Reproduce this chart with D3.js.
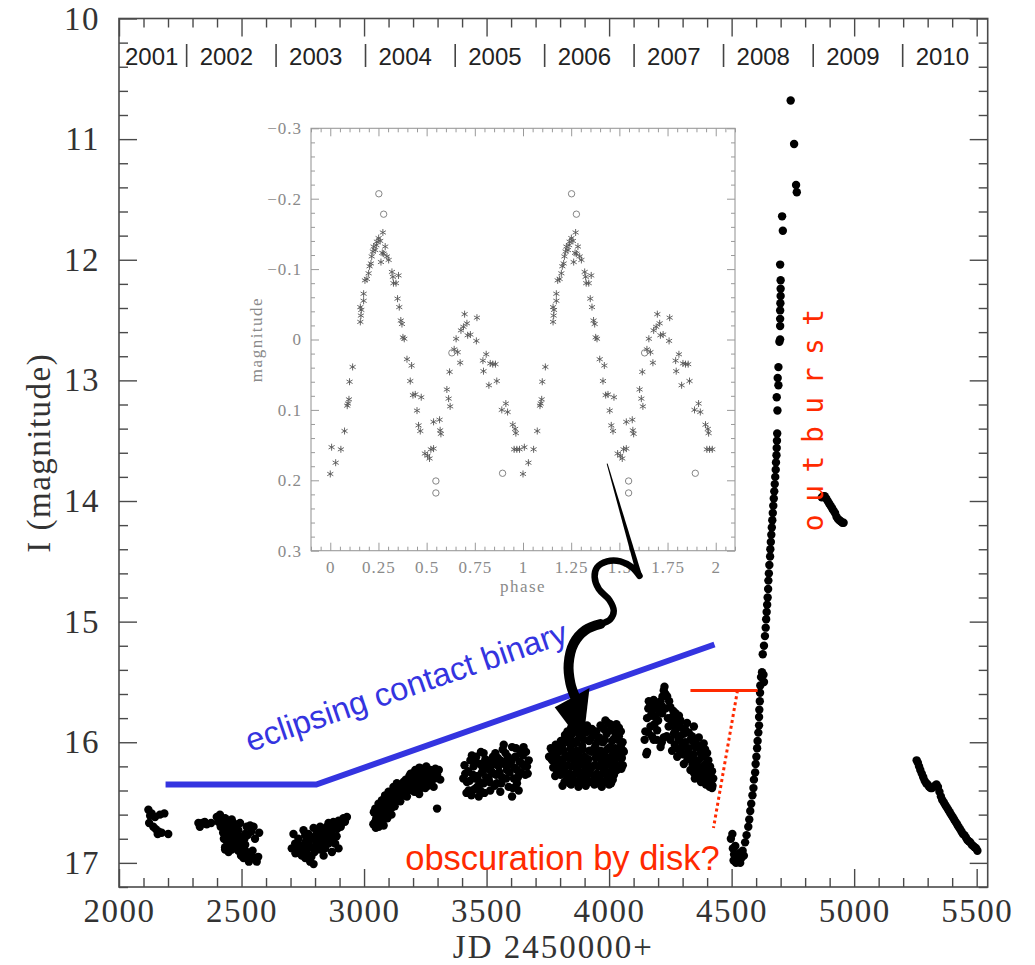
<!DOCTYPE html>
<html>
<head>
<meta charset="utf-8">
<script src="https://cdn.jsdelivr.net/npm/d3@7"></script>
<style>
  html, body { margin: 0; padding: 0; background: #fff; }
  svg { display: block; }
</style>
</head>
<body>
<svg id="chart" width="1035" height="965"></svg>
<script>
// ---------------------------------------------------------------
// I-band light curve, JD 2450000+ vs magnitude, one array per season
// ---------------------------------------------------------------
const season2001 = [
  [2120,16.56],[2133,16.59],[2127,16.61],[2147,16.62],[2167,16.60],[2185,16.59],
  [2123,16.67],[2140,16.70],[2150,16.72],[2158,16.76],[2174,16.75],[2201,16.76],[2161,16.74]
];
const season2002 = [
  [2324,16.67],[2340,16.67],[2358,16.68],[2376,16.67],[2399,16.62],[2412,16.60],[2419,16.65],
  [2433,16.63],[2426,16.69],[2440,16.67],[2447,16.72],[2460,16.64],[2467,16.67],[2474,16.70],
  [2457,16.74],[2433,16.76],[2447,16.78],[2463,16.78],[2481,16.76],[2487,16.73],[2494,16.80],
  [2501,16.83],[2508,16.78],[2515,16.76],[2521,16.70],[2535,16.69],[2549,16.70],[2572,16.75],
  [2433,16.87],[2447,16.91],[2460,16.89],[2474,16.85],[2487,16.90],[2501,16.92],[2508,16.96],
  [2521,16.91],[2535,16.94],[2549,16.96],[2562,16.99],[2487,16.83],[2467,16.83],[2494,16.67],
  [2515,16.85],[2433,16.89],[2330,16.70],[2350,16.66],[2405,16.66],[2415,16.70],[2425,16.75],
  [2438,16.72],[2452,16.68],[2470,16.74],[2478,16.80],[2490,16.86],[2505,16.88],[2512,16.80],
  [2525,16.77],[2540,16.74],[2555,16.80],[2568,16.95],[2440,16.82],[2455,16.86],[2428,16.80],
  [2498,16.94],[2530,16.99],[2545,16.90]
];
const season2003 = [
  [2712,16.76],[2705,16.88],[2719,16.84],[2732,16.89],[2746,16.94],[2760,16.96],[2780,16.99],
  [2794,17.01],[2766,16.88],[2773,16.84],[2787,16.87],[2807,16.84],[2821,16.89],[2835,16.94],
  [2841,16.88],[2855,16.84],[2869,16.91],[2882,16.84],[2896,16.88],[2753,16.73],[2773,16.76],
  [2794,16.71],[2807,16.74],[2821,16.70],[2828,16.77],[2841,16.73],[2855,16.67],[2869,16.73],
  [2875,16.66],[2896,16.65],[2909,16.67],[2916,16.63],[2930,16.62],[2800,16.78],[2814,16.81],
  [2848,16.78],[2732,16.80],[2766,16.80],[2862,16.81],[2835,16.83],[2720,16.92],[2740,16.86],
  [2755,16.91],[2770,16.93],[2785,16.95],[2798,16.91],[2812,16.86],[2825,16.82],[2840,16.80],
  [2852,16.76],[2865,16.77],[2880,16.70],[2890,16.72],[2905,16.70],[2922,16.66],[2760,16.83],
  [2790,16.80],[2815,16.76],[2830,16.72],[2848,16.70],[2760,16.77],[2888,16.78]
];
const season2004 = [
  [3046,16.55],[3059,16.51],[3073,16.48],[3066,16.58],[3086,16.44],[3100,16.41],[3107,16.48],
  [3120,16.37],[3134,16.34],[3141,16.44],[3155,16.40],[3161,16.33],[3175,16.36],[3189,16.31],
  [3195,16.26],[3202,16.37],[3209,16.23],[3223,16.29],[3229,16.25],[3236,16.34],[3243,16.22],
  [3257,16.26],[3263,16.31],[3270,16.23],[3277,16.29],[3284,16.37],[3291,16.22],[3298,16.27],
  [3311,16.31],[3298,16.55],[3114,16.54],[3093,16.59],[3148,16.49],[3175,16.45],[3216,16.41],
  [3250,16.38],[3040,16.58],[3050,16.63],[3058,16.67],[3068,16.62],[3075,16.66],[3085,16.60],
  [3095,16.63],[3105,16.56],[3112,16.60],[3125,16.53],[3060,16.70],[3045,16.66],[3080,16.69],
  [3052,16.60],[3063,16.55],[3070,16.52],[3078,16.58],[3082,16.50],[3090,16.47],[3096,16.54],
  [3103,16.44],[3110,16.50],[3118,16.42],[3122,16.47],[3130,16.39],[3137,16.45],[3145,16.37],
  [3150,16.42],[3158,16.35],[3165,16.39],[3170,16.31],[3180,16.40],[3185,16.28],[3192,16.35],
  [3198,16.30],[3205,16.41],[3212,16.28],[3218,16.34],[3226,16.21],[3232,16.38],[3240,16.28],
  [3247,16.33],[3254,16.20],[3260,16.36],[3268,16.27],[3274,16.33],[3280,16.25],[3288,16.30],
  [3295,16.24],[3305,16.23],[3038,16.68],[3048,16.71],[3056,16.64],[3072,16.61],[3088,16.56],
  [3102,16.52],[3128,16.48],[3160,16.44],[3190,16.26],[3225,16.43]
];
const season2005 = [
  [3413,16.26],[3420,16.33],[3427,16.40],[3434,16.15],[3440,16.11],[3447,16.20],[3454,16.30],
  [3461,16.37],[3468,16.45],[3474,16.18],[3481,16.25],[3488,16.34],[3495,16.14],[3502,16.22],
  [3508,16.30],[3515,16.40],[3522,16.16],[3529,16.26],[3536,16.09],[3542,16.34],[3549,16.20],
  [3556,16.15],[3563,16.29],[3570,16.02],[3577,16.09],[3583,16.23],[3590,16.37],[3597,16.18],
  [3604,16.04],[3611,16.30],[3617,16.12],[3624,16.23],[3631,16.40],[3638,16.08],[3645,16.18],
  [3651,16.04],[3658,16.27],[3665,16.20],[3604,16.45],[3556,16.41],[3515,16.20],[3474,16.40],
  [3454,16.15],[3583,16.15],[3624,16.34],[3536,16.18],[3488,16.09],
  [3405,16.30],[3410,16.19],[3418,16.42],[3425,16.24],[3431,16.32],[3438,16.44],[3444,16.27],
  [3450,16.39],[3458,16.12],[3464,16.28],[3471,16.33],[3477,16.08],[3484,16.21],[3491,16.42],
  [3498,16.29],[3505,16.17],[3512,16.33],[3519,16.24],[3526,16.12],[3533,16.36],[3539,16.27],
  [3546,16.13],[3553,16.25],[3560,16.34],[3566,16.06],[3573,16.18],[3580,16.30],[3587,16.12],
  [3594,16.25],[3600,16.16],[3607,16.38],[3614,16.21],[3620,16.05],[3628,16.29],[3634,16.16],
  [3641,16.25],[3648,16.11],[3655,16.20],[3661,16.08],[3668,16.26],[3672,16.15]
];
const season2006 = [
  [3845,15.88],[3872,15.87],[3900,15.88],[3930,15.89],[3965,15.86],[3995,15.84],[4010,15.87],[4030,15.85],
  [3820,15.94],[3850,15.93],[3880,15.95],[3905,15.92],[3935,15.94],[3960,15.96],[3990,15.93],
  [4020,15.97],[4040,15.95],[3782,16.02],[3808,16.03],[3835,16.00],[3860,16.01],[3890,16.03],[3918,15.99],
  [3945,16.02],[3975,16.00],[4003,16.04],[4025,16.05],[4048,16.03],[3776,16.10],[3795,16.08],[3822,16.11],
  [3848,16.09],[3875,16.10],[3900,16.12],[3928,16.08],[3952,16.11],[3980,16.09],[4008,16.12],[4035,16.10],
  [4052,16.13],[3780,16.18],[3805,16.16],[3830,16.19],[3858,16.17],[3885,16.18],[3912,16.16],[3940,16.19],
  [3968,16.17],[3995,16.18],[4022,16.16],[4045,16.19],[3788,16.25],[3815,16.23],[3840,16.26],[3868,16.24],
  [3895,16.25],[3922,16.23],[3950,16.26],[3978,16.24],[4005,16.25],[4032,16.23],[4050,16.22],
  [3825,16.32],[3852,16.30],[3880,16.33],[3908,16.31],[3935,16.32],[3962,16.30],[3990,16.33],[4015,16.31],
  [3810,16.36],[3845,16.35],[3875,16.37],[3905,16.36],[3940,16.35],[3970,16.37],[4000,16.35],
  [3762,16.05],[3768,16.15],[3755,16.12],[4060,16.08],
  [3830,15.91],[3862,15.90],[3888,15.91],[3918,15.90],[3948,15.91],[3978,15.89],[4005,15.90],[4025,15.92],
  [4048,15.91],[3803,15.99],[3815,15.98],[3842,15.97],[3868,15.99],[3898,15.98],[3925,15.97],[3955,15.99],
  [3982,15.98],[4012,15.99],[4035,15.98],[4055,16.00],[3768,16.07],[3790,16.06],[3815,16.07],[3842,16.05],
  [3868,16.07],[3893,16.06],[3920,16.07],[3940,16.05],[3965,16.07],[3992,16.06],[4018,16.08],[4042,16.06],
  [4058,16.07],[3765,16.14],[3788,16.13],[3812,16.14],[3838,16.13],[3864,16.14],[3890,16.13],[3915,16.14],
  [3945,16.13],[3972,16.14],[3998,16.13],[4025,16.14],[4048,16.13],[3772,16.21],[3795,16.20],[3820,16.21],
  [3845,16.20],[3872,16.21],[3900,16.20],[3928,16.21],[3955,16.20],[3982,16.21],[4010,16.20],[4035,16.21],
  [4056,16.19],[3780,16.28],[3802,16.27],[3828,16.28],[3855,16.27],[3882,16.28],[3910,16.27],[3938,16.28],
  [3965,16.27],[3992,16.28],[4020,16.27],[3818,16.33],[3840,16.34],[3865,16.33],
  [3895,16.34],[3922,16.33],[3952,16.34],[3982,16.33],[4008,16.34],
  [3985,15.82],[4005,15.85],[4040,15.88],[3910,15.86],[3860,15.86]
];
const season2007 = [
  [4162,15.66],[4155,15.80],[4148,15.91],[4155,16.08],[4169,15.68],[4182,15.65],[4196,15.68],[4210,15.66],
  [4223,15.57],[4226,15.54],[4237,15.62],[4250,15.71],[4257,15.79],[4243,15.87],[4223,15.96],[4196,15.90],
  [4182,15.98],[4210,16.04],[4169,15.87],[4189,15.79],[4216,15.76],[4271,15.76],[4278,15.87],[4291,15.82],
  [4305,15.93],[4318,15.84],[4332,15.98],[4346,15.87],[4352,16.04],[4366,15.96],[4373,16.09],[4386,16.01],
  [4393,16.18],[4400,16.09],[4407,16.23],[4380,16.26],[4359,16.20],[4339,16.15],[4318,16.09],[4298,16.04],
  [4284,15.98],[4264,15.93],[4257,16.07],[4278,16.12],[4305,16.18],[4332,16.23],[4359,16.29],[4386,16.31],
  [4400,16.29],[4410,16.37],[4395,16.35],[4420,16.38],[4375,16.33],[4350,16.30],[4145,15.98],[4152,16.10],
  [4160,15.72],[4175,15.74],[4190,15.72],[4205,15.75],[4218,15.62],[4230,15.60],[4245,15.66],[4262,15.74],
  [4275,15.82],[4285,15.78],[4295,15.88],[4312,15.90],[4325,15.92],[4338,15.95],[4345,16.00],[4360,16.02],
  [4370,16.05],[4380,16.12],[4392,16.06],[4405,16.15],[4412,16.20],[4395,16.25],[4385,16.20],[4365,16.15],
  [4345,16.10],[4325,16.05],[4310,16.00],[4290,15.95],[4270,15.90],[4255,15.85],[4240,15.80],[4230,15.72],
  [4215,15.70],[4200,15.82],[4185,15.85],[4170,15.78],[4160,15.92],[4175,15.95],[4195,15.98],[4215,16.00],
  [4235,15.95],[4250,15.98],[4268,16.02],[4285,16.06],[4300,16.10],[4320,16.14],[4340,16.18],[4355,16.22],
  [4375,16.26],[4400,16.32],[4418,16.30],[4422,16.36],[4408,16.27],[4415,16.33],[4390,16.29],[4365,16.24],
  [4345,16.25],[4420,16.24],[4402,16.19],[4425,16.30],[4330,16.11],[4355,16.15],[4300,16.02],[4280,15.95]
];
// 2008: faint start, steep rise and the outburst peak
const season2008 = [
  [4497,16.80],[4503,16.76],[4505,16.88],[4510,16.93],[4515,16.86],[4520,16.95],[4525,16.98],[4530,16.92],
  [4535,17.00],[4540,16.96],[4545,16.90],[4550,16.94],[4508,16.98],[4518,17.00],[4528,16.99],
  [4555,16.83],[4561,16.77],[4568,16.70],[4572,16.64],[4576,16.57],[4580,16.51],[4585,16.44],[4589,16.38],
  [4591,16.31],[4596,16.25],[4598,16.18],[4601,16.12],[4604,16.05],[4606,15.99],[4609,15.92],[4612,15.86],
  [4612,15.79],[4613,15.73],[4615,15.66],[4616,15.59],[4617,15.53],[4620,15.46],[4624,15.42],[4630,15.44],
  [4632,15.50],[4627,15.27],[4632,15.20],[4636,15.12],[4639,15.05],[4641,14.98],[4643,14.92],[4645,14.86],
  [4647,14.80],[4649,14.73],[4650,14.66],[4652,14.60],[4654,14.53],[4657,14.46],[4658,14.40],[4660,14.34],
  [4662,14.28],[4664,14.22],[4666,14.16],[4668,14.10],[4670,14.04],[4672,13.98],[4674,13.92],[4676,13.86],
  [4678,13.80],[4680,13.74],[4681,13.68],[4683,13.62],[4684,13.56],[4685,13.50],[4686,13.44],
  [4687,13.25],[4684,13.14],[4691,13.04],[4688,12.98],[4691,12.89],[4695,12.68],[4698,12.66],[4698,12.55],
  [4698,12.49],[4698,12.42],[4699,12.36],[4700,12.30],[4700,12.24],[4700,12.17],[4698,12.04],[4706,11.64],
  [4709,11.76],[4741,10.68],[4755,11.04],[4763,11.38],[4766,11.44]
];
const season2009 = [
  [4868,13.97],[4874,13.96],[4880,13.96],[4886,13.98],[4892,14.00],[4898,14.02],[4904,14.04],[4910,14.06],
  [4916,14.08],[4922,14.10],[4928,14.13],[4934,14.15],[4940,14.16],[4946,14.17],[4952,14.18],[4957,14.18]
];
const season2010 = [
  [5255,16.15],[5260,16.17],[5265,16.20],[5270,16.23],[5276,16.26],[5282,16.29],[5288,16.32],[5294,16.34],
  [5300,16.35],[5306,16.37],[5312,16.38],[5318,16.38],[5324,16.37],[5330,16.36],[5336,16.35],[5342,16.37],
  [5348,16.41],[5354,16.45],[5360,16.48],[5366,16.50],[5372,16.52],[5378,16.54],[5384,16.56],[5390,16.58],
  [5396,16.60],[5402,16.62],[5408,16.64],[5414,16.66],[5420,16.68],[5426,16.70],[5432,16.72],[5438,16.74],
  [5444,16.76],[5450,16.77],[5456,16.79],[5462,16.81],[5468,16.82],[5474,16.83],[5480,16.85],[5486,16.86],
  [5492,16.87],[5498,16.88],[5503,16.90]
];

// calendar years along the top (JD 2450000+ of 1 January)
const yearLabels = ['2001','2002','2003','2004','2005','2006','2007','2008','2009','2010'];
const yearStartJD = [1911, 2276, 2641, 3006, 3372, 3737, 4102, 4467, 4833, 5198];

// main axis ticks
const jdTicks = [2000, 2500, 3000, 3500, 4000, 4500, 5000, 5500];
const magTicks = [10, 11, 12, 13, 14, 15, 16, 17];

// ---------------------------------------------------------------
// Phased light curve (inset): [phase, delta magnitude]
// ---------------------------------------------------------------
const phaseStars = [
  [0.000,0.191],[0.007,0.153],[0.028,0.175],[0.055,0.156],[0.074,0.130],[0.088,0.094],[0.092,0.091],
  [0.097,0.085],[0.100,0.060],[0.116,0.039],[0.156,-0.025],[0.159,-0.034],[0.161,-0.042],[0.156,-0.046],
  [0.173,-0.055],[0.173,-0.065],[0.180,-0.084],[0.190,-0.086],[0.199,-0.094],[0.204,-0.104],[0.211,-0.108],
  [0.215,-0.118],[0.221,-0.125],[0.225,-0.132],[0.233,-0.127],[0.239,-0.134],[0.242,-0.139],[0.251,-0.144],
  [0.259,-0.140],[0.263,-0.110],[0.273,-0.152],[0.270,-0.123],[0.277,-0.122],[0.285,-0.132],[0.294,-0.118],
  [0.303,-0.113],[0.320,-0.096],[0.325,-0.089],[0.328,-0.080],[0.341,-0.080],[0.354,-0.091],[0.349,-0.058],
  [0.358,-0.046],[0.366,-0.027],[0.372,-0.022],[0.377,-0.003],[0.384,-0.001],[0.398,0.028],[0.422,0.037],
  [0.415,0.059],[0.429,0.079],[0.441,0.078],[0.472,0.082],[0.450,0.101],[0.458,0.122],[0.467,0.130],
  [0.491,0.162],[0.505,0.165],[0.515,0.169],[0.522,0.156],[0.536,0.155],[0.536,0.117],[0.567,0.114],
  [0.570,0.129],[0.574,0.134],[0.605,0.071],[0.614,0.084],[0.622,0.095],[0.619,0.046],[0.653,-0.001],
  [0.643,0.014],[0.661,0.018],[0.674,0.033],[0.678,-0.013],[0.691,-0.018],[0.697,-0.036],[0.709,-0.023],
  [0.713,-0.006],[0.727,-0.007],[0.758,0.002],[0.761,-0.031],[0.792,0.030],[0.795,0.045],[0.809,0.021],
  [0.823,0.065],[0.830,0.034],[0.843,0.035],[0.857,0.035],[0.864,0.059],[0.890,0.100],[0.911,0.091],
  [0.920,0.103],[0.947,0.121],[0.963,0.133],[0.959,0.127],[0.954,0.156],[0.968,0.156],[0.982,0.156]
];
const phaseCircles = [
  [0.252,-0.207],[0.277,-0.178],[0.548,0.201],[0.548,0.218],[0.631,0.019],[0.894,0.190]
];
const phaseTicks = [0, 0.25, 0.5, 0.75, 1, 1.25, 1.5, 1.75, 2];
const phaseTickLabels = ['0','0.25','0.5','0.75','1','1.25','1.5','1.75','2'];
const dmagTicks = [-0.3, -0.2, -0.1, 0, 0.1, 0.2, 0.3];
const dmagTickLabels = ['\u22120.3','\u22120.2','\u22120.1','0','0.1','0.2','0.3'];

// ---------------------------------------------------------------
// Annotations, in JD / magnitude
// ---------------------------------------------------------------
const binaryTrend = [[2190,16.35],[2805,16.35],[4430,15.19]];
const obscurationBar = [[4332,15.57],[4606,15.57]];
const obscurationLeader = [[4524,15.57],[4426,16.71]];
const arrowTail = [[3992,13.69],[4124,14.62]];
const arrowBodyUpper = [[4124,14.62],[4094,14.55],[4046,14.50],[3992,14.50],[3951,14.55],[3941,14.63],
  [3958,14.73],[4001,14.82],[4019,14.91],[4005,14.98],[3965,15.02]];
const arrowBodyLower = [[3965,15.02],[3903,15.07],[3856,15.18],[3835,15.35],[3842,15.51],[3860,15.62]];
const arrowHead = [[3778,15.71],[3920,15.55],[3893,16.02]];

// ---------------------------------------------------------------
const svg = d3.select('#chart');
const serif = "'Liberation Serif', 'Times New Roman', serif";
const sans = "'Liberation Sans', Arial, Helvetica, sans-serif";
const axisColor = '#4a4a4a';
const blue = '#3434e0';
const red = '#ff2a00';

const x = d3.scaleLinear().domain([2000, 5545]).range([119, 987.7]);
const y = d3.scaleLinear().domain([10, 17.2]).range([18.5, 887]);
const [x0, x1] = x.range();
const [y0, y1] = y.range();

function tidy(g) {
  g.select('.domain').remove();
  g.selectAll('.tick line').attr('stroke', axisColor).attr('stroke-width', 1.4);
}

const minorJD = d3.range(20, 56).map(i => i * 100).filter(v => v % 500 !== 0 && v <= 5545);
const minorMag = d3.range(50, 87).map(i => i / 5).filter((v, i) => (i % 5) !== 0);

// bottom axis
svg.append('g').attr('transform', `translate(0,${y1})`)
  .call(d3.axisBottom(x).tickValues(jdTicks).tickSize(-18).tickPadding(12).tickFormat(d3.format('d')))
  .call(tidy);
svg.append('g').attr('transform', `translate(0,${y1})`)
  .call(d3.axisBottom(x).tickValues(minorJD).tickSize(-9).tickFormat(''))
  .call(tidy);
// top axis
svg.append('g').attr('transform', `translate(0,${y0})`)
  .call(d3.axisTop(x).tickValues(jdTicks).tickSize(-18).tickFormat(''))
  .call(tidy);
svg.append('g').attr('transform', `translate(0,${y0})`)
  .call(d3.axisTop(x).tickValues(minorJD).tickSize(-9).tickFormat(''))
  .call(tidy);
// left axis
svg.append('g').attr('transform', `translate(${x0},0)`)
  .call(d3.axisLeft(y).tickValues(magTicks).tickSize(-18).tickPadding(19).tickFormat(d3.format('d')))
  .call(tidy);
svg.append('g').attr('transform', `translate(${x0},0)`)
  .call(d3.axisLeft(y).tickValues(minorMag).tickSize(-9).tickFormat(''))
  .call(tidy);
// right axis
svg.append('g').attr('transform', `translate(${x1},0)`)
  .call(d3.axisRight(y).tickValues(magTicks).tickSize(-18).tickFormat(''))
  .call(tidy);
svg.append('g').attr('transform', `translate(${x1},0)`)
  .call(d3.axisRight(y).tickValues(minorMag).tickSize(-9).tickFormat(''))
  .call(tidy);

svg.selectAll('.tick text')
  .attr('font-family', serif).attr('font-size', 33).attr('letter-spacing', 1.5)
  .attr('fill', '#333');

// frame
svg.append('rect').attr('x', x0).attr('y', y0).attr('width', x1 - x0).attr('height', y1 - y0)
  .attr('fill', 'none').attr('stroke', axisColor).attr('stroke-width', 1.6);

// axis titles
svg.append('text').attr('x', (x0 + x1) / 2).attr('y', 958).attr('text-anchor', 'middle')
  .attr('font-family', serif).attr('font-size', 33).attr('letter-spacing', 2).attr('fill', '#333')
  .text('JD 2450000+');
svg.append('text').attr('transform', `translate(50,${(y0 + y1) / 2}) rotate(-90)`)
  .attr('text-anchor', 'middle')
  .attr('font-family', serif).attr('font-size', 33).attr('letter-spacing', 1.5).attr('fill', '#333')
  .text('I (magnitude)');

// calendar years
const years = svg.append('g');
years.selectAll('line').data(yearStartJD.slice(1)).join('line')
  .attr('x1', d => x(d)).attr('x2', d => x(d)).attr('y1', 44).attr('y2', 67)
  .attr('stroke', '#444').attr('stroke-width', 1.6);
years.selectAll('text').data(yearLabels).join('text')
  .attr('x', (d, i) => Math.max(x(yearStartJD[i]) + 13, x0 + 6)).attr('y', 65)
  .attr('font-family', sans).attr('font-size', 24).attr('fill', '#222')
  .text(d => d);

// light curve
const allPoints = [season2001, season2002, season2003, season2004, season2005,
  season2006, season2007, season2008, season2009, season2010].flat();
svg.append('g').selectAll('circle').data(allPoints).join('circle')
  .attr('cx', d => x(d[0])).attr('cy', d => y(d[1])).attr('r', 4.2).attr('fill', '#000');

// ---------------------------------------------------------------
// Inset: phased light curve
// ---------------------------------------------------------------
const px = d3.scaleLinear().domain([-0.1, 2.1]).range([311, 735]);
const py = d3.scaleLinear().domain([-0.3, 0.3]).range([128.3, 550.7]);
const [ix0, ix1] = px.range();
const [iy0, iy1] = py.range();
const inset = svg.append('g');
const insetGrey = '#9a9a9a';
inset.append('rect').attr('x', ix0).attr('y', iy0).attr('width', ix1 - ix0).attr('height', iy1 - iy0)
  .attr('fill', '#fff').attr('stroke', insetGrey).attr('stroke-width', 1.1);

const phaseMinor = d3.range(-2, 43).filter(i => i % 5 !== 0).map(i => i * 0.05);
const dmagMinor = d3.range(-15, 16).filter(i => i % 5 !== 0).map(i => i * 0.02);
function tidyInset(g) {
  g.select('.domain').remove();
  g.selectAll('.tick line').attr('stroke', insetGrey).attr('stroke-width', 1);
  g.selectAll('.tick text').attr('font-family', serif).attr('font-size', 17)
    .attr('letter-spacing', 1).attr('fill', '#8a8a8a');
}
inset.append('g').attr('transform', `translate(0,${iy1})`)
  .call(d3.axisBottom(px).tickValues(phaseTicks).tickSize(-8).tickPadding(10)
    .tickFormat((d, i) => phaseTickLabels[i])).call(tidyInset);
inset.append('g').attr('transform', `translate(0,${iy1})`)
  .call(d3.axisBottom(px).tickValues(phaseMinor).tickSize(-4).tickFormat('')).call(tidyInset);
inset.append('g').attr('transform', `translate(0,${iy0})`)
  .call(d3.axisTop(px).tickValues(phaseTicks).tickSize(-8).tickFormat('')).call(tidyInset);
inset.append('g').attr('transform', `translate(0,${iy0})`)
  .call(d3.axisTop(px).tickValues(phaseMinor).tickSize(-4).tickFormat('')).call(tidyInset);
inset.append('g').attr('transform', `translate(${ix0},0)`)
  .call(d3.axisLeft(py).tickValues(dmagTicks).tickSize(-8).tickPadding(9)
    .tickFormat((d, i) => dmagTickLabels[i])).call(tidyInset);
inset.append('g').attr('transform', `translate(${ix0},0)`)
  .call(d3.axisLeft(py).tickValues(dmagMinor).tickSize(-4).tickFormat('')).call(tidyInset);
inset.append('g').attr('transform', `translate(${ix1},0)`)
  .call(d3.axisRight(py).tickValues(dmagTicks).tickSize(-8).tickFormat('')).call(tidyInset);
inset.append('g').attr('transform', `translate(${ix1},0)`)
  .call(d3.axisRight(py).tickValues(dmagMinor).tickSize(-4).tickFormat('')).call(tidyInset);

inset.append('text').attr('x', (px(0) + px(2)) / 2).attr('y', 592).attr('text-anchor', 'middle')
  .attr('font-family', serif).attr('font-size', 17).attr('letter-spacing', 1.5).attr('fill', '#8a8a8a')
  .text('phase');
inset.append('text').attr('transform', `translate(262,${py(0)}) rotate(-90)`).attr('text-anchor', 'middle')
  .attr('font-family', serif).attr('font-size', 17).attr('letter-spacing', 1.5).attr('fill', '#8a8a8a')
  .text('magnitude');

// two cycles of the folded curve
const cycles = [0, 1];
const star = d3.symbol().type(d3.symbolAsterisk).size(34);
inset.append('g').selectAll('path')
  .data(cycles.flatMap(k => phaseStars.map(d => [d[0] + k, d[1]])))
  .join('path')
  .attr('transform', d => `translate(${px(d[0])},${py(d[1])})`)
  .attr('d', star).attr('fill', 'none').attr('stroke', '#555').attr('stroke-width', 0.9);
inset.append('g').selectAll('circle')
  .data(cycles.flatMap(k => phaseCircles.map(d => [d[0] + k, d[1]])))
  .join('circle')
  .attr('cx', d => px(d[0])).attr('cy', d => py(d[1])).attr('r', 3.2)
  .attr('fill', 'none').attr('stroke', '#777').attr('stroke-width', 0.9);

// ---------------------------------------------------------------
// Annotations
// ---------------------------------------------------------------
const toPx = d => [x(d[0]), y(d[1])];
const line = d3.line();

// eclipsing-binary trend
svg.append('path').attr('d', line(binaryTrend.map(toPx)))
  .attr('fill', 'none').attr('stroke', blue).attr('stroke-width', 6);
const tPos = toPx([2535, 16.08]);
svg.append('text').attr('transform', `translate(${tPos[0]},${tPos[1]}) rotate(-19)`)
  .attr('font-family', sans).attr('font-size', 32.5).attr('fill', blue)
  .text('eclipsing contact binary');

// obscuration marker
svg.append('path').attr('d', line(obscurationBar.map(toPx)))
  .attr('fill', 'none').attr('stroke', red).attr('stroke-width', 3);
svg.append('path').attr('d', line(obscurationLeader.map(toPx)))
  .attr('fill', 'none').attr('stroke', red).attr('stroke-width', 3).attr('stroke-dasharray', '3,3');
const oPos = toPx([3168, 17.06]);
svg.append('text').attr('x', oPos[0]).attr('y', oPos[1])
  .attr('font-family', sans).attr('font-size', 34.5).attr('fill', red)
  .text('obscuration by disk?');

// outburst label, reading bottom to top
const bPos = toPx([4871, 14.25]);
svg.append('text').attr('transform', `translate(${bPos[0]},${bPos[1]}) rotate(-90)`)
  .attr('text-anchor', 'start')
  .attr('font-family', "'DejaVu Sans Mono', monospace").attr('font-size', 28)
  .attr('letter-spacing', 12.5).attr('fill', red)
  .text('outburst');

// curly arrow from the inset down to the 2006 season
const arrow = svg.append('g');
{
  const a0 = toPx(arrowTail[0]), a1 = toPx(arrowTail[1]);
  const dx = a1[0] - a0[0], dy = a1[1] - a0[1], len = Math.hypot(dx, dy);
  const nx = -dy / len, ny = dx / len;
  const poly = [
    [a0[0] + nx * 0.5, a0[1] + ny * 0.5], [a1[0] + nx * 2.6, a1[1] + ny * 2.6],
    [a1[0] - nx * 2.6, a1[1] - ny * 2.6], [a0[0] - nx * 0.5, a0[1] - ny * 0.5]
  ];
  arrow.append('path').attr('d', 'M' + poly.join('L') + 'Z').attr('fill', '#000');
}
const curve = d3.line().curve(d3.curveCatmullRom.alpha(0.5));
arrow.append('path').attr('d', curve(arrowBodyUpper.map(toPx)))
  .attr('fill', 'none').attr('stroke', '#000').attr('stroke-width', 6.5)
  .attr('stroke-linecap', 'round').attr('stroke-linejoin', 'round');
arrow.append('path').attr('d', curve(arrowBodyLower.map(toPx)))
  .attr('fill', 'none').attr('stroke', '#000').attr('stroke-width', 10)
  .attr('stroke-linecap', 'round').attr('stroke-linejoin', 'round');
arrow.append('path').attr('d', 'M' + arrowHead.map(toPx).join('L') + 'Z').attr('fill', '#000');
</script>
</body>
</html>
